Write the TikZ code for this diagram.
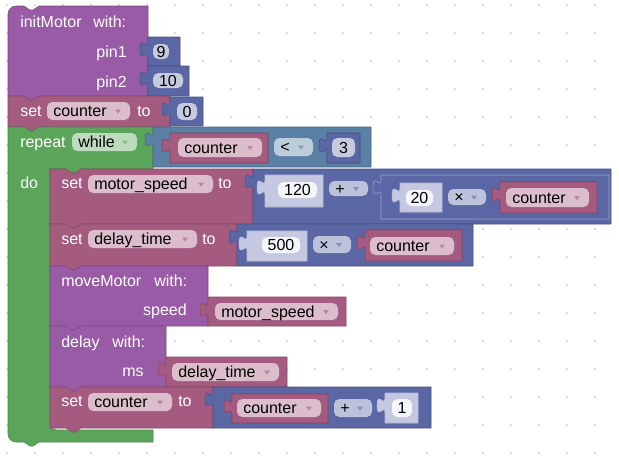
\documentclass[tikz,border=0pt]{standalone}
\usepackage{fontspec}
\setmainfont{Liberation Sans}

\definecolor{procc}{HTML}{995BA5}
\definecolor{varc}{HTML}{A55B80}
\definecolor{mathc}{HTML}{5B67A5}
\definecolor{logicc}{HTML}{5B80A5}
\definecolor{loopc}{HTML}{5BA55B}
\definecolor{shadc}{HTML}{C4C8E0}
\definecolor{dotc}{HTML}{CDCDCD}

\newcommand{\blkfont}{\fontsize{12}{14}\selectfont}

\tikzset{
  lbl/.style={text=white,font=\blkfont,inner sep=0pt,anchor=base west},
  fldtxt/.style={text=black,font=\blkfont,inner sep=0pt}
}

% statement block: x, y, width, height, colour
\newcommand{\stmtblk}[5]{%
  \filldraw[fill=#5,draw=#5!80!black,line width=0.4pt] (#1,#2) -- (#1+16,#2) -- ++(6,4) -- ++(3,0) -- ++(6,-4) -- (#1+#3,#2) -- (#1+#3,#2+#4) -- (#1+31,#2+#4) -- ++(-6,4) -- ++(-3,0) -- ++(-6,-4) -- (#1,#2+#4) -- cycle;}

% value block with puzzle tab: x, y, width, height, fill, border
\newcommand{\valblk}[6]{%
  \filldraw[fill=#5,draw=#6,line width=0.4pt] (#1,#2) -- (#1+#3,#2) -- (#1+#3,#2+#4) -- (#1,#2+#4) -- (#1,#2+20) .. controls (#1,#2+10) and (#1-8,#2+28) .. (#1-8,#2+12.5) .. controls (#1-8,#2-3) and (#1,#2+15) .. (#1,#2+5) -- cycle;}

% text field: name, x1, y1, x2, y2, fill, text
\newcommand{\numfld}[7]{%
  \fill[#6,rounded corners=4] (#2,#3) rectangle (#4,#5);
  \node[fldtxt,anchor=base] (#1) at ({(#2+#4)/2},{(#3+#5)/2+5.5}) {#7};}

% dropdown field: name, x1, y1, x2, y2, colour, text
\newcommand{\ddfld}[7]{%
  \fill[#6!40!white,rounded corners=4] (#2,#3) rectangle (#4,#5);
  \node[fldtxt,anchor=base west] (#1) at (#2+6,{(#3+#5)/2+5.5}) {#7};
  \fill[#6!75!white] (#4-15,{(#3+#5)/2-1.5}) -- ++(6,0) -- ++(-3,4) -- cycle;}

\begin{document}
\begin{tikzpicture}[x=0.75pt,y=-0.75pt]

\fill[white] (0,0) rectangle (619,457);
\useasboundingbox (0,0) rectangle (619,457);

\foreach \i in {0,...,21}
  \foreach \j in {0,...,16}
    \fill[dotc] (7+28*\i,5+28*\j) circle[radius=0.9pt];

% initMotor
\filldraw[fill=procc,draw=procc!80!black,line width=0.4pt] (8,14) .. controls (8,9.6) and (11.6,6) .. (16,6) -- (24,6) -- ++(6,4) -- ++(3,0) -- ++(6,-4) -- (148,6) -- (148,96) -- (39,96) -- ++(-6,4) -- ++(-3,0) -- ++(-6,-4) -- (8,96) -- cycle;
\valblk{148}{37}{32}{29}{mathc}{mathc!80!black}
\valblk{148}{66}{41}{30}{mathc}{mathc!80!black}
\node[lbl] (initlbl) at (20,27) {initMotor};
\node[lbl] (initwith) at (93,27) {with:};
\node[lbl,anchor=base east] (pinone) at (127,57) {pin1};
\node[lbl,anchor=base east] (pintwo) at (127,87) {pin2};
\numfld{nine}{153}{44}{169}{59}{mathc!35!white}{9}
\numfld{ten}{153}{73}{183}{88}{mathc!35!white}{10}

% set counter to 0
\stmtblk{8}{96}{162}{31}{varc}
\valblk{170}{97}{33}{29}{mathc}{mathc!80!black}
\node[lbl] (setone) at (20,116) {set};
\node[lbl] (toone) at (137,116) {to};
\ddfld{ddone}{47}{102}{130}{120}{varc}{counter}
\numfld{zero}{177}{103}{197}{120}{mathc!35!white}{0}

% repeat while
\filldraw[fill=loopc,draw=loopc!80!black,line width=0.4pt] (8,127) -- (24,127) -- ++(6,4) -- ++(3,0) -- ++(6,-4) -- (153,127) -- (153,169) -- (81,169) -- ++(-6,4) -- ++(-3,0) -- ++(-6,-4) -- (50,169) -- (50,423) .. controls (50,426.9) and (53.1,430) .. (57,430) -- (153,430) -- (153,442) -- (39,442) -- ++(-6,4) -- ++(-3,0) -- ++(-6,-4) -- (16,442) .. controls (11.6,442) and (8,438.4) .. (8,434) -- cycle;
\node[lbl] (replbl) at (20,147) {repeat};
\node[lbl] (dolbl) at (20,188) {do};
\ddfld{ddwhile}{72}{133}{137}{151}{loopc}{while}
\valblk{153}{127}{218}{40}{logicc}{logicc!80!black}
\valblk{170}{133}{98}{30}{varc}{varc!75!black}
\ddfld{ddcmpvar}{178}{138}{262}{157}{varc}{counter}
\ddfld{ddlt}{274}{138}{313}{156}{logicc}{<}
\valblk{327}{133}{33}{30}{mathc}{mathc!75!black}
\numfld{three}{332}{138}{355}{157}{mathc!35!white}{3}

% set motor_speed
\stmtblk{50}{169}{203}{55}{varc}
\node[lbl] (settwo) at (61,188) {set};
\node[lbl] (totwo) at (218,188) {to};
\ddfld{ddspeed}{88}{175}{213}{193}{varc}{motor\_speed}
\valblk{253}{169}{358}{55}{mathc}{mathc!80!black}
\valblk{265}{175}{58}{32}{shadc}{mathc!45!white}
\numfld{n120}{278}{182}{317}{198}{white!94!mathc}{120}
\ddfld{ddplusone}{329}{181}{368}{196}{mathc}{+}
\valblk{381}{175}{228}{44}{mathc}{mathc!60!white}
\valblk{400}{183}{42}{29}{shadc}{mathc!45!white}
\numfld{n20}{406}{190}{433}{206}{white!94!mathc}{20}
\ddfld{ddtimesone}{448}{189}{486}{205}{mathc}{×}
\valblk{500}{182}{97}{31}{varc}{varc!75!black}
\ddfld{ddcntone}{506}{188}{589}{207}{varc}{counter}

% set delay_time
\stmtblk{50}{224}{187}{42}{varc}
\node[lbl] (setthree) at (61,244) {set};
\node[lbl] (tothree) at (202,244) {to};
\ddfld{dddelay}{88}{230}{197}{248}{varc}{delay\_time}
\valblk{237}{224}{236}{42}{mathc}{mathc!80!black}
\valblk{247}{231}{60}{30}{shadc}{mathc!45!white}
\numfld{n500}{262}{237}{300}{253}{white!94!mathc}{500}
\ddfld{ddtimestwo}{313}{236}{351}{253}{mathc}{×}
\valblk{365}{230}{97}{31}{varc}{varc!75!black}
\ddfld{ddcnttwo}{370}{237}{454}{255}{varc}{counter}

% moveMotor
\stmtblk{50}{266}{158}{60}{procc}
\node[lbl] (movelbl) at (61,286) {moveMotor};
\node[lbl] (movewith) at (154,286) {with:};
\node[lbl,anchor=base east] (speedlbl) at (187,315) {speed};
\valblk{208}{297}{138}{29}{varc}{varc!80!black}
\ddfld{ddmspeed}{215}{303}{338}{320}{varc}{motor\_speed}

% delay
\stmtblk{50}{326}{116}{61}{procc}
\node[lbl] (delaylbl) at (61,347) {delay};
\node[lbl] (delaywith) at (112,347) {with:};
\node[lbl,anchor=base east] (mslbl) at (144,376) {ms};
\valblk{166}{357}{121}{30}{varc}{varc!80!black}
\ddfld{ddmsdelay}{172}{363}{279}{381}{varc}{delay\_time}

% set counter to counter + 1
\stmtblk{50}{387}{163}{41}{varc}
\node[lbl] (setfour) at (61,406) {set};
\node[lbl] (tofour) at (178,406) {to};
\ddfld{ddcntthree}{88}{393}{172}{411}{varc}{counter}
\valblk{213}{387}{218}{41}{mathc}{mathc!80!black}
\valblk{232}{394}{96}{29}{varc}{varc!75!black}
\ddfld{ddcntfour}{237}{399}{321}{417}{varc}{counter}
\ddfld{ddplustwo}{334}{399}{372}{417}{mathc}{+}
\valblk{385}{393}{33}{30}{shadc}{mathc!45!white}
\numfld{numone}{392}{399}{412}{417}{white!94!mathc}{1}

\end{tikzpicture}
\end{document}
